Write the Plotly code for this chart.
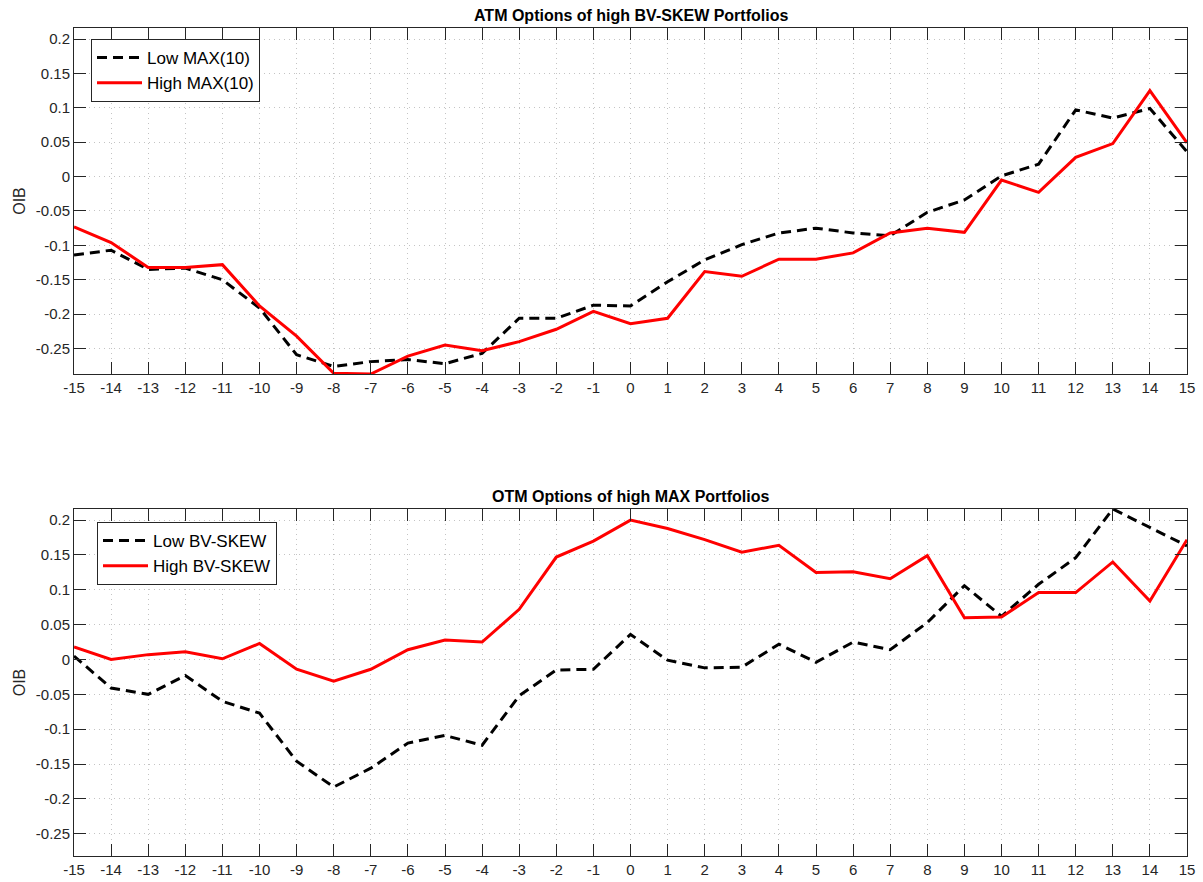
import plotly.graph_objects as go

days = list(range(-15, 16))

# Top panel: ATM Options of high BV-SKEW Portfolios
atm_low_max = [-0.114, -0.107, -0.135, -0.133, -0.150, -0.191, -0.259, -0.276, -0.269, -0.266,
               -0.272, -0.257, -0.206, -0.206, -0.187, -0.188, -0.153, -0.121, -0.099, -0.082,
               -0.075, -0.082, -0.086, -0.052, -0.034, 0.001, 0.018, 0.097, 0.085, 0.099, 0.036]
atm_high_max = [-0.073, -0.096, -0.132, -0.132, -0.128, -0.188, -0.232, -0.286, -0.287, -0.261,
                -0.245, -0.253, -0.240, -0.222, -0.196, -0.214, -0.206, -0.138, -0.145, -0.120,
                -0.120, -0.111, -0.082, -0.075, -0.081, -0.005, -0.023, 0.028, 0.048, 0.125, 0.049]

# Bottom panel: OTM Options of high MAX Portfolios
otm_low_skew = [0.005, -0.041, -0.050, -0.023, -0.060, -0.077, -0.146, -0.183, -0.156, -0.120,
                -0.109, -0.123, -0.052, -0.015, -0.014, 0.036, -0.001, -0.012, -0.011, 0.022,
                -0.004, 0.025, 0.014, 0.053, 0.106, 0.062, 0.108, 0.146, 0.216, 0.189, 0.163]
otm_high_skew = [0.018, 0.000, 0.007, 0.011, 0.001, 0.023, -0.014, -0.031, -0.014, 0.014,
                 0.028, 0.025, 0.072, 0.147, 0.170, 0.200, 0.188, 0.172, 0.154, 0.164,
                 0.125, 0.126, 0.116, 0.149, 0.060, 0.061, 0.096, 0.096, 0.140, 0.084, 0.172]

ytick_vals = [-0.25, -0.2, -0.15, -0.1, -0.05, 0, 0.05, 0.1, 0.15, 0.2]
ytick_text = ["-0.25", "-0.2", "-0.15", "-0.1", "-0.05", "0", "0.05", "0.1", "0.15", "0.2"]
titles = ["ATM Options of high BV-SKEW Portfolios", "OTM Options of high MAX Portfolios"]

FONT = "Liberation Sans, Arial, Helvetica, sans-serif"
AX = "#262626"
DASH = "10px,6px"
GRID = "#c4c4c4"
GRIDDASH = "1px,4px"

W, H = 1203, 882
ML, MR, MT, MB = 74, 16, 28, 26
PW, PH = W - ML - MR, H - MT - MB


def px_x(px):
    return (px - ML) / PW


def px_y(py):
    return 1 - (py - MT) / PH


fig = go.Figure()
fig.add_trace(go.Scatter(x=days, y=atm_low_max, mode="lines", name="Low MAX(10)",
                         line=dict(color="black", width=3, dash=DASH), xaxis="x", yaxis="y",
                         legend="legend"))
fig.add_trace(go.Scatter(x=days, y=atm_high_max, mode="lines", name="High MAX(10)",
                         line=dict(color="#ff0000", width=3), xaxis="x", yaxis="y",
                         legend="legend"))
fig.add_trace(go.Scatter(x=days, y=otm_low_skew, mode="lines", name="Low BV-SKEW",
                         line=dict(color="black", width=3, dash=DASH), xaxis="x2", yaxis="y2",
                         legend="legend2"))
fig.add_trace(go.Scatter(x=days, y=otm_high_skew, mode="lines", name="High BV-SKEW",
                         line=dict(color="#ff0000", width=3), xaxis="x2", yaxis="y2",
                         legend="legend2"))

ydom_top = [px_y(374), 1]
ydom_bot = [0, px_y(509)]


def xaxis(anchor):
    return dict(domain=[0, 1], anchor=anchor, range=[-15, 15], tickmode="array",
                tickvals=days, ticktext=[str(d) for d in days], ticks="inside", ticklen=12,
                tickcolor=AX, tickwidth=1, showline=True, linecolor=AX, linewidth=1,
                mirror="ticks", showgrid=True, gridcolor=GRID, griddash=GRIDDASH,
                gridwidth=1, zeroline=False, automargin=False,
                tickfont=dict(size=15, color=AX, family=FONT))


def yaxis(anchor, dom, rng):
    return dict(domain=dom, anchor=anchor, range=rng, tickmode="array",
                tickvals=ytick_vals, ticktext=ytick_text, ticks="inside", ticklen=12,
                tickcolor=AX, tickwidth=1, showline=True, linecolor=AX, linewidth=1,
                mirror="ticks", showgrid=True, gridcolor=GRID, griddash=GRIDDASH,
                gridwidth=1, zeroline=False, automargin=False,
                tickfont=dict(size=15, color=AX, family=FONT),
                title=dict(text="OIB", font=dict(size=16, color=AX, family=FONT), standoff=6))


legend_style = dict(bgcolor="white", bordercolor=AX, borderwidth=1,
                    font=dict(size=17, color="black", family=FONT),
                    xanchor="left", yanchor="top", tracegroupgap=0, itemwidth=45)

fig.update_layout(
    width=W, height=H,
    margin=dict(l=ML, r=MR, t=MT, b=MB, autoexpand=False),
    paper_bgcolor="white", plot_bgcolor="white",
    font=dict(family=FONT, color=AX),
    xaxis=xaxis("y"),
    yaxis=yaxis("x", ydom_top, [-0.287, 0.216]),
    xaxis2=xaxis("y2"),
    yaxis2=yaxis("x2", ydom_bot, [-0.282, 0.216]),
    legend=dict(x=px_x(91), y=px_y(39), **legend_style),
    legend2=dict(x=px_x(97), y=px_y(522), **legend_style),
    annotations=[
        dict(text="<b>" + titles[0] + "</b>", x=0.5, y=px_y(16),
             xref="paper", yref="paper", showarrow=False, xanchor="center", yanchor="middle",
             font=dict(size=16, color="black", family=FONT)),
        dict(text="<b>" + titles[1] + "</b>", x=0.5, y=px_y(497),
             xref="paper", yref="paper", showarrow=False, xanchor="center", yanchor="middle",
             font=dict(size=16, color="black", family=FONT)),
    ],
    showlegend=True,
)

fig.write_html(
    "out.html",
    config={"displayModeBar": False},
    post_script="document.body.style.margin='0';document.body.style.overflow='hidden';",
)
